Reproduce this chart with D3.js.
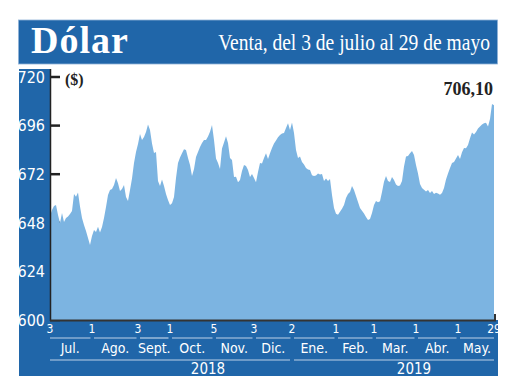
<!DOCTYPE html>
<html>
<head>
<meta charset="utf-8">
<script src="https://cdn.jsdelivr.net/npm/d3@7"></script>
<style>
  body { margin: 0; background: #fff; }
  svg { display: block; }
</style>
</head>
<body>
<div id="chart"></div>
<script>
"use strict";

// Dólar venta, one value per trading session, 3 jul 2018 - 29 may 2019
const ventas = [
  651.4, 654.3, 656.3, 656.8, 651.9, 647.9, 652.8, 648.4, 650.4, 651.1,
  652.3, 653.8, 662.2, 660.9, 663.0, 656.0, 650.4, 646.9, 644.0, 640.5,
  637.0, 641.5, 644.4, 643.5, 646.1, 643.2, 645.9, 650.4, 655.8, 661.7,
  664.2, 664.7, 666.7, 670.1, 667.5, 663.7, 664.7, 666.7, 660.7, 658.8,
  664.2, 669.9, 677.5, 683.0, 686.9, 691.9, 688.9, 690.4, 692.8, 696.6,
  693.8, 687.2, 682.5, 683.0, 668.6, 666.2, 669.4, 666.2, 662.2, 659.3,
  656.8, 657.6, 660.7, 670.1, 677.5, 680.3, 682.3, 684.3, 684.0, 680.0,
  676.5, 671.1, 674.6, 680.5, 683.0, 685.4, 687.4, 688.9, 688.9, 690.6,
  693.0, 696.3, 688.9, 679.8, 677.5, 674.6, 684.7, 687.7, 690.7, 687.4,
  680.0, 679.0, 670.6, 670.8, 668.0, 669.1, 673.6, 676.5, 676.1, 674.1,
  670.6, 672.1, 670.1, 668.0, 673.1, 677.5, 677.3, 680.0, 682.3, 679.5,
  682.3, 684.9, 687.2, 688.6, 690.3, 691.4, 692.1, 692.3, 694.8, 697.1,
  693.8, 697.5, 692.3, 684.0, 680.0, 680.7, 678.0, 676.8, 675.1, 674.3,
  674.1, 671.5, 671.1, 671.4, 672.3, 671.9, 672.1, 668.7, 669.9, 668.6,
  669.6, 661.7, 655.3, 652.5, 652.0, 653.5, 655.0, 656.8, 660.2, 662.2,
  663.2, 666.2, 664.2, 661.2, 658.3, 655.3, 653.9, 652.6, 650.9, 649.4,
  649.9, 652.8, 656.8, 658.8, 658.1, 658.6, 663.2, 668.3, 671.1, 668.6,
  668.2, 670.6, 669.1, 666.9, 666.2, 666.4, 668.6, 675.8, 680.7, 681.0,
  682.3, 683.4, 681.5, 676.5, 672.4, 667.2, 665.2, 664.3, 663.5, 664.2,
  662.7, 663.7, 662.2, 662.9, 662.5, 661.8, 662.7, 665.2, 669.4, 672.4,
  675.1, 677.5, 678.0, 679.8, 681.5, 679.5, 682.8, 684.9, 684.8, 686.4,
  689.7, 692.6, 691.6, 692.8, 694.6, 695.6, 696.6, 697.1, 697.4, 695.5,
  699.3, 706.7, 706.1
];

// first session of each month (index into ventas) and its day label
const tickIdx = [0, 21, 44, 60, 82, 102, 121, 143, 162, 183, 204, 222];
const tickDays = ["3", "1", "3", "1", "5", "3", "2", "1", "1", "1", "1", "29"];
const meses = ["Jul.", "Ago.", "Sept.", "Oct.", "Nov.", "Dic.", "Ene.", "Feb.", "Mar.", "Abr.", "May."];
const anios = ["2018", "2019"];
const anioSpan = [[0, 121], [121, 222]];   // session range of each year
const anioLabelAt = [79, 182];             // where the year label sits
const yTicks = [600, 624, 648, 672, 696, 720];
const ultimo = "706,10";

const W = 520, H = 390;
const BLUE = "#2066a9", FILL = "#7cb4e1", LINE = "#bcd0e8";
const narrow = "'Liberation Sans Narrow', 'DejaVu Sans Condensed', 'Roboto', sans-serif";
const serif = "'Liberation Serif', 'DejaVu Serif', serif";

const svg = d3.select("#chart").append("svg")
  .attr("width", W)
  .attr("height", H);

const x = d3.scaleLinear().domain([0, ventas.length - 1]).range([50, 494]);
const y = d3.scaleLinear().domain([600, 720]).range([320, 77]);

// title bar
svg.append("rect")
  .attr("x", 18.5).attr("y", 20).attr("width", 479).attr("height", 44)
  .attr("fill", BLUE).attr("stroke", "#8fb2d8").attr("stroke-width", 0.8);
svg.append("text")
  .attr("x", 31).attr("y", 53)
  .attr("font-family", serif).attr("font-weight", "bold")
  .attr("font-size", 38).attr("letter-spacing", 1)
  .attr("fill", "#fff")
  .text("Dólar");

// subtitle is a condensed face in the original: squeeze it horizontally
const sub = svg.append("text")
  .attr("text-anchor", "end")
  .attr("font-family", serif).attr("font-size", 24)
  .attr("fill", "#fff")
  .text("Venta, del 3 de julio al 29 de mayo");
const subW = sub.node().getComputedTextLength();
sub.attr("transform", `translate(490,50) scale(${272 / subW},1)`);

// left strip + bottom band
svg.append("rect")
  .attr("x", 19).attr("y", 69).attr("width", 31.5).attr("height", 307)
  .attr("fill", BLUE);
svg.append("rect")
  .attr("x", 19).attr("y", 320).attr("width", 479).attr("height", 56)
  .attr("fill", BLUE);

// y ticks (under the area)
svg.selectAll(".ytick")
  .data(yTicks)
  .enter()
  .append("line")
  .attr("class", "ytick")
  .attr("x1", 50).attr("x2", 60)
  .attr("y1", d => y(d)).attr("y2", d => y(d))
  .attr("stroke", "#222").attr("stroke-width", 2.5);

svg.selectAll(".ylab")
  .data(yTicks)
  .enter()
  .append("text")
  .attr("class", "ylab")
  .attr("x", 45)
  .attr("y", d => y(d))
  .attr("dy", "0.36em")
  .attr("text-anchor", "end")
  .attr("font-family", narrow).attr("font-size", 16)
  .attr("fill", "#fff")
  .text(d => d);

// area
const area = d3.area()
  .x((d, i) => x(i))
  .y0(y(600))
  .y1(d => y(d));

svg.append("path")
  .datum(ventas)
  .attr("d", area)
  .attr("fill", FILL);

// axes lines
svg.append("line")
  .attr("x1", 50.5).attr("x2", 50.5).attr("y1", 69).attr("y2", 321)
  .attr("stroke", "#222").attr("stroke-width", 1.5);
svg.append("line")
  .attr("x1", 50).attr("x2", x(ventas.length - 1) + 2).attr("y1", 320.5).attr("y2", 320.5)
  .attr("stroke", "#333").attr("stroke-width", 1.8);
svg.append("line")
  .attr("x1", x(ventas.length - 1) + 1).attr("x2", x(ventas.length - 1) + 1)
  .attr("y1", 314).attr("y2", 321)
  .attr("stroke", "#333").attr("stroke-width", 2);

svg.append("text")
  .attr("x", 65).attr("y", 85)
  .attr("font-family", serif).attr("font-weight", "bold").attr("font-size", 16)
  .attr("fill", "#222")
  .text("($)");

svg.append("text")
  .attr("x", 493).attr("y", 95)
  .attr("text-anchor", "end")
  .attr("font-family", serif).attr("font-weight", "bold").attr("font-size", 18)
  .attr("fill", "#222")
  .text(ultimo);

// x axis: day numbers
svg.selectAll(".day")
  .data(tickIdx)
  .enter()
  .append("text")
  .attr("class", "day")
  .attr("x", d => x(d))
  .attr("y", 333)
  .attr("text-anchor", "middle")
  .attr("font-family", narrow).attr("font-size", 12)
  .attr("fill", "#fff")
  .text((d, i) => tickDays[i]);

// month segments and names
const monthSeg = meses.map((m, i) => ({
  name: m,
  x0: i === 0 ? x(tickIdx[i]) : x(tickIdx[i]) + 2,
  x1: i === meses.length - 1 ? x(tickIdx[i + 1]) : x(tickIdx[i + 1]) - 1.5
}));

svg.selectAll(".mline")
  .data(monthSeg)
  .enter()
  .append("line")
  .attr("class", "mline")
  .attr("x1", d => d.x0).attr("x2", d => d.x1)
  .attr("y1", 338).attr("y2", 338)
  .attr("stroke", LINE).attr("stroke-width", 1.2);

svg.selectAll(".mes")
  .data(monthSeg)
  .enter()
  .append("text")
  .attr("class", "mes")
  .attr("x", d => (d.x0 + d.x1) / 2)
  .attr("y", 353)
  .attr("text-anchor", "middle")
  .attr("font-family", narrow).attr("font-size", 14)
  .attr("fill", "#fff")
  .text(d => d.name);

// years
svg.selectAll(".yline")
  .data(anioSpan)
  .enter()
  .append("line")
  .attr("class", "yline")
  .attr("x1", (d, i) => i === 0 ? x(d[0]) : x(d[0]) + 2)
  .attr("x2", (d, i) => i === 0 ? x(d[1]) - 2 : x(d[1]))
  .attr("y1", 360).attr("y2", 360)
  .attr("stroke", LINE).attr("stroke-width", 1.2);

svg.selectAll(".anio")
  .data(anios)
  .enter()
  .append("text")
  .attr("class", "anio")
  .attr("x", (d, i) => x(anioLabelAt[i]))
  .attr("y", 374)
  .attr("text-anchor", "middle")
  .attr("font-family", narrow).attr("font-size", 15)
  .attr("fill", "#fff")
  .text(d => d);
</script>
</body>
</html>
